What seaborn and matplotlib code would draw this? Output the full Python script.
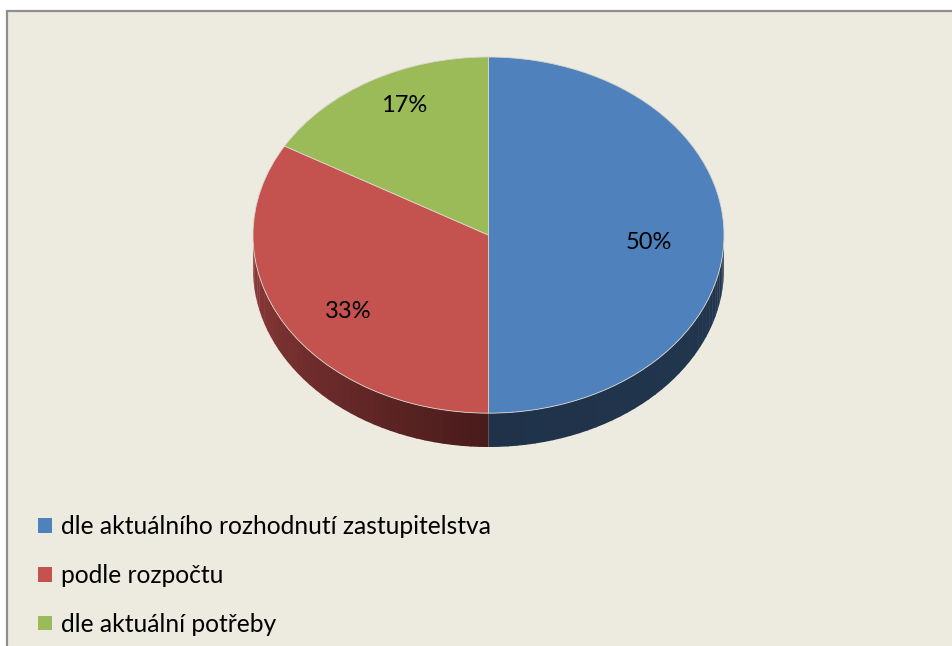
import matplotlib
matplotlib.use("Agg")
import matplotlib.pyplot as plt
from matplotlib.patches import Rectangle, Patch, Polygon
import matplotlib.colors as mcolors
import numpy as np
import seaborn as sns

# data
categories = ["dle aktuálního rozhodnutí zastupitelstva", "podle rozpočtu", "dle aktuální potřeby"]
shares = [3, 2, 1]
top_colors = ["#4F81BD", "#C4524E", "#9BBB59"]

sns.set_theme(style="white")
plt.rcParams["font.family"] = ["Lato", "DejaVu Sans"]
palette = sns.color_palette(top_colors)

W, H = 953, 646
fig = plt.figure(figsize=(W / 100, H / 100), dpi=100, facecolor="white")

# beige chart area with grey frame (only top/left edge visible)
fig.patches.append(Rectangle((7 / W, -0.1), 1.2, 1.1 - 11 / H, transform=fig.transFigure,
                             facecolor="#EDEAE0", edgecolor="#8F8F8F", linewidth=1.6, zorder=-5))

# pie axes: ellipse bbox in px
x0, x1, ytop, ybot = 253, 724, 57, 447
depth = 0.19
ax = fig.add_axes([x0 / W, 1 - ybot / H, (x1 - x0) / W, (ybot - ytop) / H])
ax.set_facecolor("none")
ax.set_zorder(2)

# side of the 3d pie (front half only)
fracs = np.array(shares) / sum(shares)
ang = 90.0
side_cols = [("#1F3249", "#22374F"), ("#8E3B3A", "#4A1B1B"), ("#6E8A3E", "#4E632C")]
for f, (c0, c1) in zip(fracs, side_cols):
    s, e = ang - 360 * f, ang
    ang = s
    if s < 0:
        s, e = s + 360, e + 360
    s2, e2 = max(s, 180), min(e, 360)
    if e2 <= s2:
        continue
    n = 40
    edges = np.linspace(s2, e2, n + 1)
    for i in range(n):
        t = np.radians(np.linspace(edges[i], min(edges[i + 1] + 0.3, e2), 6))
        xs = np.cos(t)
        ys = np.sin(t)
        pts = np.r_[np.c_[xs, ys], np.c_[xs[::-1], ys[::-1] - depth]]
        mix = i / (n - 1)
        col = np.array(mcolors.to_rgb(c0)) * (1 - mix) + np.array(mcolors.to_rgb(c1)) * mix
        ax.add_patch(Polygon(pts, closed=True, facecolor=col, edgecolor="none", zorder=1))

wedges, texts, autotexts = ax.pie(
    shares, colors=palette, startangle=90, counterclock=False,
    autopct="%1.0f%%", pctdistance=0.72,
    wedgeprops=dict(linewidth=0.6, edgecolor="#D9D6CC"),
    textprops=dict(fontsize=17, color="black"))
for w in wedges:
    w.set_zorder(2)

# excel places the labels a bit differently on the tilted pie
label_dist = [0.68, 0.71, 0.85]
label_nudge = [0, 3, -5]
for w, t, r, dn in zip(wedges, autotexts, label_dist, label_nudge):
    mid = np.radians((w.theta1 + w.theta2) / 2 + dn)
    t.set_position((r * np.cos(mid), r * np.sin(mid) - 0.04))
    t.set_zorder(3)

ax.set_aspect("auto")
ax.set_xlim(-1, 1)
ax.set_ylim(-1 - depth, 1)
ax.axis("off")

handles = [Patch(facecolor=c, edgecolor="none") for c in palette]
fig.legend(handles, categories, loc="upper left", bbox_to_anchor=(38 / W, 1 - 515 / H),
           frameon=False, fontsize=17.7, handlelength=0.55, handleheight=0.55,
           handletextpad=0.4, labelspacing=1.05, borderpad=0, borderaxespad=0,
           labelcolor="black")

fig.savefig("out.png", dpi=100, facecolor="white")
